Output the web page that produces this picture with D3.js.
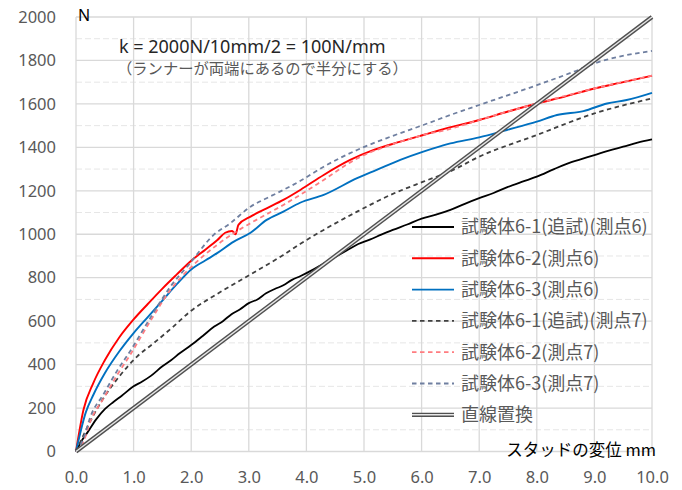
<!DOCTYPE html>
<html><head><meta charset="utf-8">
<script src="https://cdn.jsdelivr.net/npm/d3@7"></script>
<style>body{margin:0;background:#fff}svg{display:block}</style>
</head><body><svg id="c" width="682" height="490"></svg>
<script>
// ---- data ----
const xTickValues = [0,1,2,3,4,5,6,7,8,9,10];
const yTickValues = [0,200,400,600,800,1000,1200,1400,1600,1800,2000];
const yMinorValues = [100,300,500,700,900,1100,1300,1500,1700,1900];
const seriesNames = ["試験体6-1(追試)(測点6)","試験体6-2(測点6)","試験体6-3(測点6)","試験体6-1(追試)(測点7)","試験体6-2(測点7)","試験体6-3(測点7)","直線置換"];

const s1x = [0,0.1,0.2,0.35,0.5,0.65,0.8,1.0,1.15,1.3,1.5,1.65,1.8,2.0,2.2,2.4,2.55,2.7,2.85,3.0,3.15,3.3,3.45,3.6,3.75,3.9,4.1,4.3,4.5,4.7,4.9,5.1,5.3,5.5,5.75,6.0,6.25,6.5,6.75,7.0,7.25,7.5,7.75,8.0,8.3,8.6,8.8,9.0,9.25,9.5,9.75,10.0];
const s1y = [0,50,88,148,195,228,258,300,322,348,392,420,452,490,532,575,600,632,655,683,700,728,748,765,790,808,835,865,895,925,955,975,998,1020,1045,1072,1090,1112,1140,1166,1190,1218,1242,1265,1300,1332,1348,1364,1385,1403,1422,1437];

const s2x = [0,0.13,0.3,0.5,0.75,1.0,1.25,1.5,1.75,2.0,2.25,2.45,2.59,2.71,2.77,2.82,3.03,3.31,3.6,3.9,4.3,4.76,5.17,5.63,6.03,6.33,7.0,7.5,8.0,8.5,9.0,9.5,10.0];
const s2y = [0,192,315,420,525,608,680,750,815,878,930,972,1007,1015,1000,1043,1081,1119,1158,1205,1273,1342,1388,1426,1457,1480,1526,1565,1602,1635,1671,1700,1730];

const s3x = [0,0.17,0.3,0.5,0.75,1.0,1.25,1.5,1.75,2.0,2.25,2.45,2.74,3.03,3.31,3.6,3.89,4.3,4.88,5.22,5.63,6.03,6.5,7.0,7.48,8.0,8.35,8.81,9.22,9.56,10.0];
const s3y = [0,180,260,360,460,545,620,695,770,838,880,913,966,1007,1066,1104,1145,1181,1258,1296,1342,1380,1418,1446,1480,1518,1549,1567,1602,1618,1651];

const s4x = [0,0.25,0.5,0.75,1.06,1.35,1.69,1.98,2.45,3.03,3.6,3.89,4.3,4.88,5.46,6.03,6.5,7.0,8.0,9.0,10.0];
const s4y = [0,140,255,345,437,499,575,644,725,815,905,955,1020,1104,1181,1242,1290,1357,1457,1556,1625];

const s5x = [0,0.13,0.25,0.48,0.71,0.94,1.29,1.64,1.98,2.45,2.74,3.03,3.6,3.89,4.3,4.88,5.46,6.03,6.5,7.0,8.0,9.0,10.0];
const s5y = [0,45,140,245,350,445,600,744,844,951,1005,1051,1135,1181,1250,1349,1411,1457,1485,1526,1602,1671,1730];

const s6x = [0,0.13,0.25,0.48,0.71,0.94,1.29,1.64,1.98,2.39,2.68,3.03,3.31,3.6,3.89,4.3,4.88,5.46,6.03,6.5,7.0,8.0,8.64,9.0,10.0];
const s6y = [0,60,160,265,370,462,615,759,867,997,1051,1127,1166,1204,1245,1311,1388,1449,1503,1549,1595,1686,1748,1786,1844];

const s7x = [0,10];
const s7y = [0,2000];

// ---- chart ----
const svg = d3.select("#c");
const x = d3.scaleLinear().domain([0,10]).range([76,652]);
const y = d3.scaleLinear().domain([0,2000]).range([451.5,17]);

const grid = svg.append("g");
grid.selectAll(".ymin").data(yMinorValues).join("line")
  .attr("x1",x(0)).attr("x2",x(10)).attr("y1",d=>y(d)).attr("y2",d=>y(d))
  .attr("stroke","#e6e6e6").attr("stroke-width",1).attr("stroke-dasharray","6,3");
grid.selectAll(".ymaj").data(yTickValues).join("line")
  .attr("x1",x(0)).attr("x2",x(10)).attr("y1",d=>y(d)).attr("y2",d=>y(d))
  .attr("stroke","#d9d9d9").attr("stroke-width",1.3);
grid.selectAll(".xmaj").data(xTickValues).join("line")
  .attr("y1",y(0)).attr("y2",y(2000)).attr("x1",d=>x(d)).attr("x2",d=>x(d))
  .attr("stroke","#d9d9d9").attr("stroke-width",1.3);

const xAxis = d3.axisBottom(x).tickValues(xTickValues).tickFormat(d3.format(".1f")).tickSize(0).tickPadding(20);
const gx = svg.append("g").attr("transform",`translate(0,${y(0)})`).call(xAxis);
gx.select(".domain").remove();
gx.selectAll("text").attr("fill","#595959").style("font-family","'Noto Sans',sans-serif").style("font-size","16.5px");

const yAxis = d3.axisLeft(y).tickValues(yTickValues).tickFormat(d3.format("d")).tickSize(0).tickPadding(20);
const gy = svg.append("g").attr("transform",`translate(${x(0)},0)`).call(yAxis);
gy.select(".domain").remove();
gy.selectAll("text").attr("fill","#595959").style("font-family","'Noto Sans',sans-serif").style("font-size","16.5px");

const styles = [
  {stroke:"#000000", w:1.8, dash:null},
  {stroke:"#ff0000", w:1.9, dash:null},
  {stroke:"#0070c0", w:1.9, dash:null},
  {stroke:"#404040", w:1.8, dash:"4.5,3.5"},
  {stroke:"#ff7c80", w:1.8, dash:"4.5,3.5"},
  {stroke:"#6f7fa0", w:1.8, dash:"4.5,3.5"},
  {stroke:"#505050", w:4.2, dash:null, dbl:true}
];
const xs = [s1x,s2x,s3x,s4x,s5x,s6x,s7x];
const ys = [s1y,s2y,s3y,s4y,s5y,s6y,s7y];

const plot = svg.append("g");
[0,1,2,3,4,5,6].forEach(i=>{
  const pts = xs[i].map((v,k)=>[v,ys[i][k]]);
  const line = d3.line().x(d=>x(d[0])).y(d=>y(d[1])).curve(i===6?d3.curveLinear:d3.curveMonotoneX);
  const st = styles[i];
  plot.append("path").attr("d",line(pts)).attr("fill","none")
    .attr("stroke",st.stroke).attr("stroke-width",st.w)
    .attr("stroke-dasharray",st.dash).attr("stroke-linejoin","round");
  if(st.dbl){
    plot.append("path").attr("d",line(pts)).attr("fill","none")
      .attr("stroke","#e8e8e8").attr("stroke-width",1.4);
  }
});

// legend
const legend = svg.append("g");
const legY0 = 227, legDy = 31.3;
seriesNames.forEach((name,i)=>{
  const st = styles[i];
  const yy = legY0 + i*legDy;
  legend.append("line").attr("x1",412).attr("x2",454).attr("y1",yy).attr("y2",yy)
    .attr("stroke",st.stroke).attr("stroke-width",st.w).attr("stroke-dasharray",st.dash);
  if(st.dbl){
    legend.append("line").attr("x1",412).attr("x2",454).attr("y1",yy).attr("y2",yy)
      .attr("stroke","#e8e8e8").attr("stroke-width",1.4);
  }
  legend.append("text").attr("x",461).attr("y",yy).attr("dy","0.36em")
    .attr("fill","#595959").style("font-family","'Noto Sans CJK JP',sans-serif")
    .style("font-size","18px").text(name);
});

// annotations
svg.append("text").attr("x",78).attr("y",21).text("N")
  .attr("fill","#000").style("font-family","'Noto Sans',sans-serif").style("font-size","16px");
svg.append("text").attr("x",119).attr("y",53).text("k = 2000N/10mm/2 = 100N/mm")
  .attr("fill","#262626").style("font-family","'Noto Sans',sans-serif").style("font-size","18px");
svg.append("text").attr("x",117).attr("y",74).text("（ランナーが両端にあるので半分にする）")
  .attr("fill","#595959").style("font-family","'Noto Sans CJK JP',sans-serif").style("font-size","15.3px");
svg.append("text").attr("x",656).attr("y",456).attr("text-anchor","end").text("スタッドの変位 mm")
  .attr("fill","#000").style("font-family","'Noto Sans CJK JP',sans-serif").style("font-size","16.5px");
</script>
</body></html>
